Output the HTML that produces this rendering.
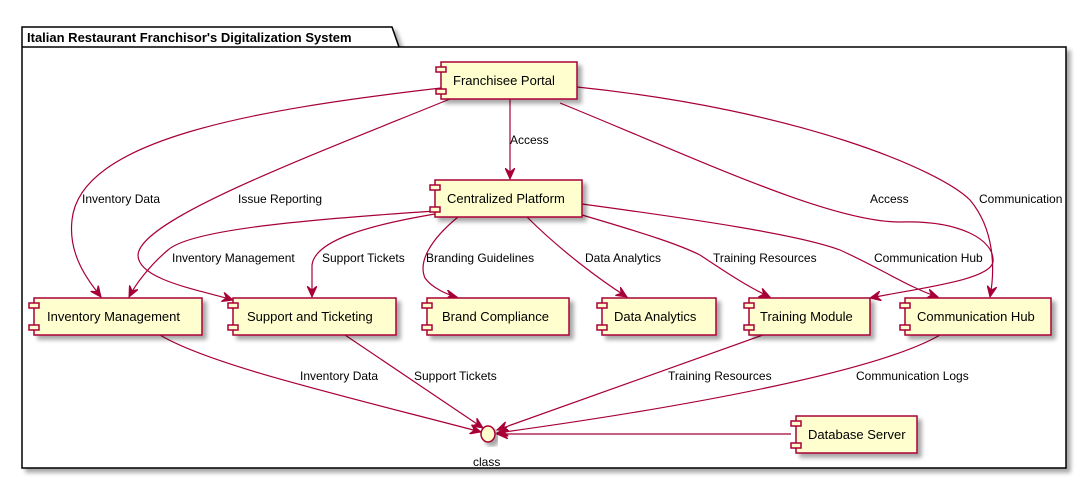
<!DOCTYPE html>
<html><head><style>
html,body{margin:0;padding:0;background:#fff;}
svg{display:block;}
text{font-family:"Liberation Sans",sans-serif;}
</style></head><body>
<svg width="1088" height="480" viewBox="0 0 1088 480" xmlns="http://www.w3.org/2000/svg">
<defs>
<filter id="sh" x="-10%" y="-10%" width="130%" height="140%"><feGaussianBlur in="SourceAlpha" stdDeviation="2"/><feOffset dx="4" dy="4"/><feComponentTransfer><feFuncA type="linear" slope="0.35"/></feComponentTransfer><feMerge><feMergeNode/><feMergeNode in="SourceGraphic"/></feMerge></filter>
<marker id="ar" viewBox="0 0 12 10" refX="11" refY="5" markerWidth="12" markerHeight="10" markerUnits="userSpaceOnUse" orient="auto">
<path d="M0,0 L11,5 L0,10 L4,5 Z" fill="#A80036" stroke="#A80036" stroke-width="1"/></marker>
</defs>
<!-- package -->
<g filter="url(#sh)">
<path d="M22,27 L392,27 L399,47 L1066,47 L1066,468 L22,468 Z" fill="#fff" stroke="#000" stroke-width="1.5"/>
</g>
<line x1="22" y1="47" x2="399" y2="47" stroke="#000" stroke-width="1.5"/>
<text x="27" y="42" font-size="13" font-weight="bold">Italian Restaurant Franchisor's Digitalization System</text>

<g fill="none" stroke="#A80036" stroke-width="1.2" marker-end="url(#ar)">
<path d="M510,99 L510,179"/>
<path d="M441,88 C 250,110 80,140 72,220 C 68,255 88,280 101,297"/>
<path d="M450,99 C 300,160 140,220 138,255 C 138,280 200,290 233,300"/>
<path d="M560,103 C 700,160 830,222 900,222 C 960,220 995,240 993,262 C 990,280 920,288 870,298"/>
<path d="M577,87 C 800,110 940,170 970,200 C 995,230 995,270 990,297"/>
<path d="M435,211 C 300,220 190,230 168,250 C 150,265 135,285 129,297"/>
<path d="M435,214 C 370,225 315,240 312,265 L312,297"/>
<path d="M458,217 C 430,240 418,262 425,278 C 432,288 448,295 457,297"/>
<path d="M527,217 C 560,250 600,280 627,297"/>
<path d="M582,215 C 650,235 680,245 700,255 C 730,275 750,288 770,297"/>
<path d="M582,204 C 700,220 800,235 840,250 C 880,268 910,288 938,297"/>
<path d="M160,335 C 210,365 340,395 481,432"/>
<path d="M345,335 L483,428"/>
<path d="M763,335 L497,430"/>
<path d="M940,335 C 880,370 700,405 497,433"/>
<path d="M791,434 L497,434"/>
</g>

<g font-size="12" fill="#000">
<text x="510" y="144">Access</text>
<text x="82" y="203">Inventory Data</text>
<text x="238" y="203">Issue Reporting</text>
<text x="870" y="203">Access</text>
<text x="979" y="203">Communication</text>
<text x="172" y="262">Inventory Management</text>
<text x="322" y="262">Support Tickets</text>
<text x="426" y="262">Branding Guidelines</text>
<text x="585" y="262">Data Analytics</text>
<text x="713" y="262">Training Resources</text>
<text x="874" y="262">Communication Hub</text>
<text x="300" y="380">Inventory Data</text>
<text x="414" y="380">Support Tickets</text>
<text x="668" y="380">Training Resources</text>
<text x="856" y="380">Communication Logs</text>
<text x="473" y="466">class</text>
</g>

<g filter="url(#sh)">
<ellipse cx="488" cy="434" rx="7" ry="8" fill="#FEFECE" stroke="#A80036" stroke-width="1.5"/>
</g>

<g font-size="13" fill="#000" stroke-width="1.5">
<!-- components: x,y,w,h -->
<g filter="url(#sh)"><rect x="441" y="62" width="136" height="37" fill="#FEFECE" stroke="#A80036"/></g>
<rect x="436" y="67" width="10" height="5" fill="#FEFECE" stroke="#A80036"/><rect x="436" y="89" width="10" height="5" fill="#FEFECE" stroke="#A80036"/>
<text x="453" y="85">Franchisee Portal</text>

<g filter="url(#sh)"><rect x="435" y="180" width="147" height="37" fill="#FEFECE" stroke="#A80036"/></g>
<rect x="430" y="185" width="10" height="5" fill="#FEFECE" stroke="#A80036"/><rect x="430" y="207" width="10" height="5" fill="#FEFECE" stroke="#A80036"/>
<text x="447" y="203">Centralized Platform</text>

<g filter="url(#sh)"><rect x="34" y="298" width="168" height="37" fill="#FEFECE" stroke="#A80036"/></g>
<rect x="29" y="303" width="10" height="5" fill="#FEFECE" stroke="#A80036"/><rect x="29" y="325" width="10" height="5" fill="#FEFECE" stroke="#A80036"/>
<text x="47" y="321">Inventory Management</text>

<g filter="url(#sh)"><rect x="233" y="298" width="163" height="37" fill="#FEFECE" stroke="#A80036"/></g>
<rect x="228" y="303" width="10" height="5" fill="#FEFECE" stroke="#A80036"/><rect x="228" y="325" width="10" height="5" fill="#FEFECE" stroke="#A80036"/>
<text x="247" y="321">Support and Ticketing</text>

<g filter="url(#sh)"><rect x="427" y="298" width="142" height="37" fill="#FEFECE" stroke="#A80036"/></g>
<rect x="422" y="303" width="10" height="5" fill="#FEFECE" stroke="#A80036"/><rect x="422" y="325" width="10" height="5" fill="#FEFECE" stroke="#A80036"/>
<text x="442" y="321">Brand Compliance</text>

<g filter="url(#sh)"><rect x="602" y="298" width="114" height="37" fill="#FEFECE" stroke="#A80036"/></g>
<rect x="597" y="303" width="10" height="5" fill="#FEFECE" stroke="#A80036"/><rect x="597" y="325" width="10" height="5" fill="#FEFECE" stroke="#A80036"/>
<text x="614" y="321">Data Analytics</text>

<g filter="url(#sh)"><rect x="749" y="298" width="121" height="37" fill="#FEFECE" stroke="#A80036"/></g>
<rect x="744" y="303" width="10" height="5" fill="#FEFECE" stroke="#A80036"/><rect x="744" y="325" width="10" height="5" fill="#FEFECE" stroke="#A80036"/>
<text x="760" y="321">Training Module</text>

<g filter="url(#sh)"><rect x="905" y="298" width="146" height="37" fill="#FEFECE" stroke="#A80036"/></g>
<rect x="900" y="303" width="10" height="5" fill="#FEFECE" stroke="#A80036"/><rect x="900" y="325" width="10" height="5" fill="#FEFECE" stroke="#A80036"/>
<text x="917" y="321">Communication Hub</text>

<g filter="url(#sh)"><rect x="796" y="416" width="121" height="37" fill="#FEFECE" stroke="#A80036"/></g>
<rect x="791" y="421" width="10" height="5" fill="#FEFECE" stroke="#A80036"/><rect x="791" y="443" width="10" height="5" fill="#FEFECE" stroke="#A80036"/>
<text x="808" y="439">Database Server</text>
</g>
</svg>
</body></html>
